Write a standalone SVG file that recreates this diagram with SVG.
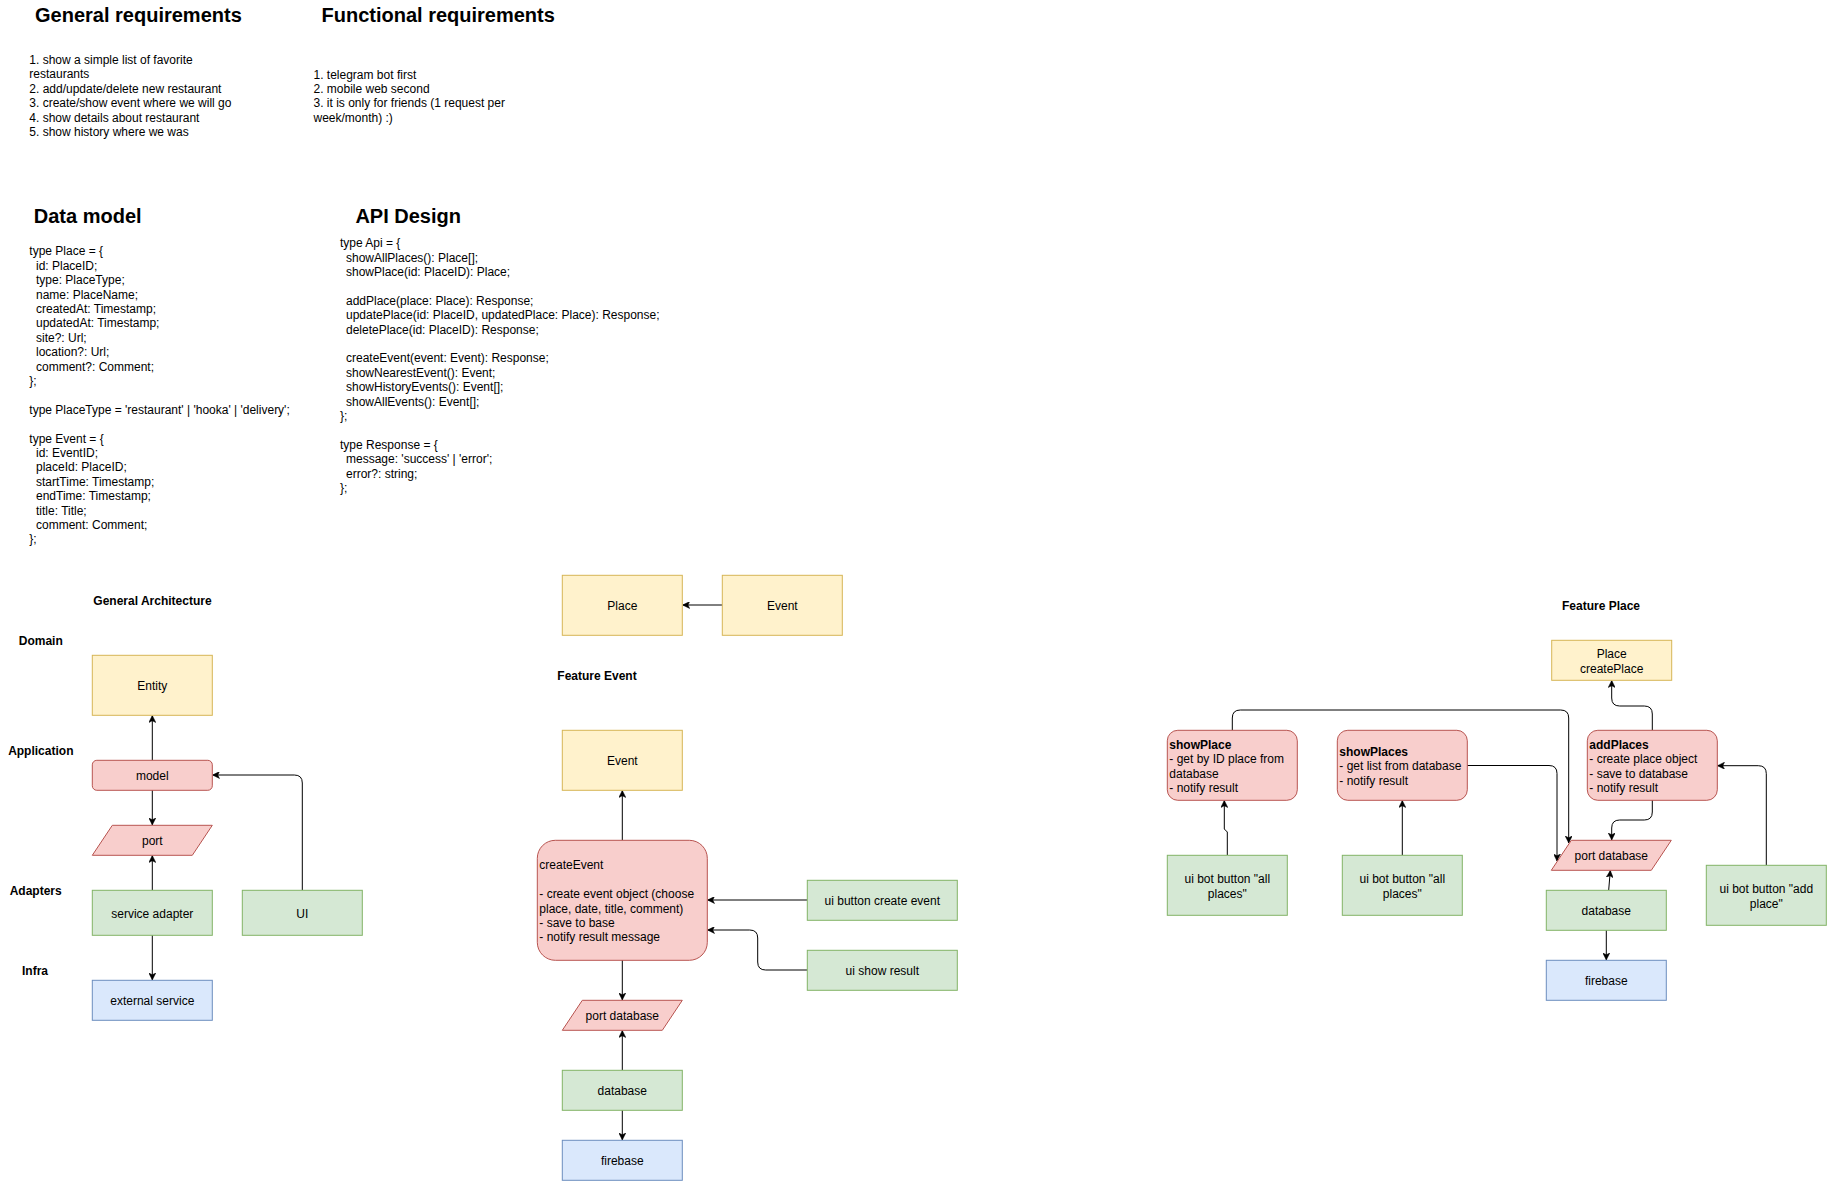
<svg xmlns="http://www.w3.org/2000/svg" width="1827" height="1181" viewBox="0 0 1827 1181">
<style>
text{font-family:"Liberation Sans",Arial,Helvetica,sans-serif;font-size:12px;fill:#000}
.h{font-size:20px;font-weight:bold}
.b{font-weight:bold}
.c{text-anchor:middle}
.y{fill:#fff2cc;stroke:#d6b656;stroke-width:1}
.r{fill:#f8cecc;stroke:#b85450;stroke-width:1}
.g{fill:#d5e8d4;stroke:#82b366;stroke-width:1}
.bl{fill:#dae8fc;stroke:#6c8ebf;stroke-width:1}
.e{fill:none;stroke:#000;stroke-width:1;marker-end:url(#arr)}
</style>
<defs>
<marker id="arr" markerUnits="userSpaceOnUse" viewBox="0 0 7 7" refX="7" refY="3.5" markerWidth="7" markerHeight="7" orient="auto">
<path d="M0,0 L7,3.5 L0,7 L1.75,3.5 Z" fill="#000" stroke="#000" stroke-width="0.5"/>
</marker>
</defs>
<rect width="1827" height="1181" fill="#fff"/>

<g id="texts">
<text class="h" x="35" y="22">General requirements</text>
<text class="h" x="321.5" y="22">Functional requirements</text>
<text x="29.3" y="64">
<tspan x="29.3">1. show a simple list of favorite</tspan>
<tspan x="29.3" dy="14.4">restaurants</tspan>
<tspan x="29.3" dy="14.4">2. add/update/delete new restaurant</tspan>
<tspan x="29.3" dy="14.4">3. create/show event where we will go</tspan>
<tspan x="29.3" dy="14.4">4. show details about restaurant</tspan>
<tspan x="29.3" dy="14.4">5. show history where we was</tspan>
</text>
<text x="313.5" y="78.5">
<tspan x="313.5">1. telegram bot first</tspan>
<tspan x="313.5" dy="14.4">2. mobile web second</tspan>
<tspan x="313.5" dy="14.4">3. it is only for friends (1 request per</tspan>
<tspan x="313.5" dy="14.4">week/month) :)</tspan>
</text>
<text class="h" x="33.8" y="223">Data model</text>
<text class="h" x="355.4" y="223">API Design</text>
<text x="29.3" y="255.4">
<tspan x="29.3">type Place = {</tspan>
<tspan x="36" dy="14.4">id: PlaceID;</tspan>
<tspan x="36" dy="14.4">type: PlaceType;</tspan>
<tspan x="36" dy="14.4">name: PlaceName;</tspan>
<tspan x="36" dy="14.4">createdAt: Timestamp;</tspan>
<tspan x="36" dy="14.4">updatedAt: Timestamp;</tspan>
<tspan x="36" dy="14.4">site?: Url;</tspan>
<tspan x="36" dy="14.4">location?: Url;</tspan>
<tspan x="36" dy="14.4">comment?: Comment;</tspan>
<tspan x="29.3" dy="14.4">};</tspan>
<tspan x="29.3" dy="28.8">type PlaceType = 'restaurant' | 'hooka' | 'delivery';</tspan>
<tspan x="29.3" dy="28.8">type Event = {</tspan>
<tspan x="36" dy="14.4">id: EventID;</tspan>
<tspan x="36" dy="14.4">placeId: PlaceID;</tspan>
<tspan x="36" dy="14.4">startTime: Timestamp;</tspan>
<tspan x="36" dy="14.4">endTime: Timestamp;</tspan>
<tspan x="36" dy="14.4">title: Title;</tspan>
<tspan x="36" dy="14.4">comment: Comment;</tspan>
<tspan x="29.3" dy="14.4">};</tspan>
</text>
<text x="340" y="247.2">
<tspan x="340">type Api = {</tspan>
<tspan x="346" dy="14.4">showAllPlaces(): Place[];</tspan>
<tspan x="346" dy="14.4">showPlace(id: PlaceID): Place;</tspan>
<tspan x="346" dy="28.8">addPlace(place: Place): Response;</tspan>
<tspan x="346" dy="14.4">updatePlace(id: PlaceID, updatedPlace: Place): Response;</tspan>
<tspan x="346" dy="14.4">deletePlace(id: PlaceID): Response;</tspan>
<tspan x="346" dy="28.8">createEvent(event: Event): Response;</tspan>
<tspan x="346" dy="14.4">showNearestEvent(): Event;</tspan>
<tspan x="346" dy="14.4">showHistoryEvents(): Event[];</tspan>
<tspan x="346" dy="14.4">showAllEvents(): Event[];</tspan>
<tspan x="340" dy="14.4">};</tspan>
<tspan x="340" dy="28.8">type Response = {</tspan>
<tspan x="346" dy="14.4">message: 'success' | 'error';</tspan>
<tspan x="346" dy="14.4">error?: string;</tspan>
<tspan x="340" dy="14.4">};</tspan>
</text>
<text class="b c" x="152.5" y="605">General Architecture</text>
<text class="b c" x="40.8" y="645">Domain</text>
<text class="b c" x="40.8" y="755">Application</text>
<text class="b c" x="35.7" y="895">Adapters</text>
<text class="b c" x="35" y="975">Infra</text>
<text class="b c" x="597" y="680">Feature Event</text>
<text class="b c" x="1601" y="610">Feature Place</text>
</g>

<g id="connectors">
<path class="e" d="M152.3,760 L152.3,715.5"/>
<path class="e" d="M152.3,790 L152.3,825"/>
<path class="e" d="M152.3,890 L152.3,855.5"/>
<path class="e" d="M152.3,935 L152.3,980"/>
<path class="e" d="M302.3,890 L302.3,783 Q302.3,775 294.3,775 L212.5,775"/>
<path class="e" d="M722.3,605 L682.7,605"/>
<path class="e" d="M622.3,840 L622.3,790.5"/>
<path class="e" d="M807.3,900 L707.5,900"/>
<path class="e" d="M807.3,970 L765.7,970 Q757.7,970 757.7,962 L757.7,938 Q757.7,930 749.7,930 L707.5,930"/>
<path class="e" d="M622.3,960 L622.3,1000"/>
<path class="e" d="M622.3,1070 L622.3,1030.5"/>
<path class="e" d="M622.3,1110 L622.3,1140"/>
<path class="e" d="M1232.3,730 L1232.3,718 Q1232.3,710 1240.3,710 L1560.7,710 Q1568.7,710 1568.7,718 L1568.7,843"/>
<path class="e" d="M1467.3,765.5 L1549,765.5 Q1557,765.5 1557,773.5 L1557,861"/>
<path class="e" d="M1227.3,855 L1227.3,832 L1224.3,829 L1224.3,800.5"/>
<path class="e" d="M1402.3,855 L1402.3,800.5"/>
<path class="e" d="M1652.3,730 L1652.3,714 Q1652.3,706 1644.3,706 L1619.7,706 Q1611.7,706 1611.7,698 L1611.7,680.5"/>
<path class="e" d="M1652.3,800 L1652.3,812 Q1652.3,820 1644.3,820 L1619.7,820 Q1611.7,820 1611.7,828 L1611.7,840"/>
<path class="e" d="M1766.3,865 L1766.3,773.7 Q1766.3,765.7 1758.3,765.7 L1717.5,765.7"/>
<path class="e" d="M1608.7,890 L1610.3,870.5"/>
<path class="e" d="M1606.3,930 L1606.3,960"/>
</g>

<g id="entity"><rect class="y" x="92.3" y="655.3" width="120" height="60"/><text class="c" x="152.3" y="690">Entity</text></g>
<g id="model"><rect class="r" x="92.3" y="760.3" width="120" height="30" rx="4.5"/><text class="c" x="152.3" y="780">model</text></g>
<g id="port"><polygon class="r" points="112.3,825.3 212.3,825.3 192.3,855.3 92.3,855.3"/><text class="c" x="152.3" y="845">port</text></g>
<g id="service-adapter"><rect class="g" x="92.3" y="890.3" width="120" height="45"/><text class="c" x="152.3" y="917.5">service adapter</text></g>
<g id="ui"><rect class="g" x="242.3" y="890.3" width="120" height="45"/><text class="c" x="302.3" y="917.5">UI</text></g>
<g id="external-service"><rect class="bl" x="92.3" y="980.3" width="120" height="40"/><text class="c" x="152.3" y="1005">external service</text></g>

<g id="place"><rect class="y" x="562.3" y="575.3" width="120" height="60"/><text class="c" x="622.3" y="610">Place</text></g>
<g id="event"><rect class="y" x="722.3" y="575.3" width="120" height="60"/><text class="c" x="782.3" y="610">Event</text></g>

<g id="fe-event"><rect class="y" x="562.3" y="730.3" width="120" height="60"/><text class="c" x="622.3" y="765">Event</text></g>
<g id="fe-createEvent"><rect class="r" x="537.3" y="840.3" width="170" height="120" rx="18"/>
<text x="539.3" y="869.3"><tspan x="539.3">createEvent</tspan><tspan x="539.3" dy="28.8">- create event object (choose</tspan><tspan x="539.3" dy="14.4">place, date, title, comment)</tspan><tspan x="539.3" dy="14.4">- save to base</tspan><tspan x="539.3" dy="14.4">- notify result message</tspan></text></g>
<g id="fe-ui-button"><rect class="g" x="807.3" y="880.3" width="150" height="40"/><text class="c" x="882.3" y="905">ui button create event</text></g>
<g id="fe-ui-result"><rect class="g" x="807.3" y="950.3" width="150" height="40"/><text class="c" x="882.3" y="975">ui show result</text></g>
<g id="fe-port"><polygon class="r" points="582.3,1000.3 682.3,1000.3 662.3,1030.3 562.3,1030.3"/><text class="c" x="622.3" y="1020">port database</text></g>
<g id="fe-database"><rect class="g" x="562.3" y="1070.3" width="120" height="40"/><text class="c" x="622.3" y="1095">database</text></g>
<g id="fe-firebase"><rect class="bl" x="562.3" y="1140.3" width="120" height="40"/><text class="c" x="622.3" y="1165">firebase</text></g>

<g id="fp-place"><rect class="y" x="1551.7" y="640.3" width="120" height="40"/><text class="c"><tspan x="1611.7" y="658.2">Place</tspan><tspan x="1611.7" dy="14.4">createPlace</tspan></text></g>
<g id="fp-showPlace"><rect class="r" x="1167.3" y="730.3" width="130" height="70" rx="10.5"/>
<text x="1169.3" y="748.8"><tspan x="1169.3" class="b">showPlace</tspan><tspan x="1169.3" dy="14.4">- get by ID place from</tspan><tspan x="1169.3" dy="14.4">database</tspan><tspan x="1169.3" dy="14.4">- notify result</tspan></text></g>
<g id="fp-showPlaces"><rect class="r" x="1337.3" y="730.3" width="130" height="70" rx="10.5"/>
<text x="1339.3" y="756"><tspan x="1339.3" class="b">showPlaces</tspan><tspan x="1339.3" dy="14.4">- get list from database</tspan><tspan x="1339.3" dy="14.4">- notify result</tspan></text></g>
<g id="fp-addPlaces"><rect class="r" x="1587.3" y="730.3" width="130" height="70" rx="10.5"/>
<text x="1589.3" y="748.8"><tspan x="1589.3" class="b">addPlaces</tspan><tspan x="1589.3" dy="14.4">- create place object</tspan><tspan x="1589.3" dy="14.4">- save to database</tspan><tspan x="1589.3" dy="14.4">- notify result</tspan></text></g>
<g id="fp-ui-all-1"><rect class="g" x="1167.3" y="855.3" width="120" height="60"/><text class="c"><tspan x="1227.3" y="883.2">ui bot button "all</tspan><tspan x="1227.3" dy="14.4">places"</tspan></text></g>
<g id="fp-ui-all-2"><rect class="g" x="1342.3" y="855.3" width="120" height="60"/><text class="c"><tspan x="1402.3" y="883.2">ui bot button "all</tspan><tspan x="1402.3" dy="14.4">places"</tspan></text></g>
<g id="fp-port"><polygon class="r" points="1571.3,840.3 1671.3,840.3 1651.3,870.3 1551.3,870.3"/><text class="c" x="1611.3" y="860">port database</text></g>
<g id="fp-database"><rect class="g" x="1546.3" y="890.3" width="120" height="40"/><text class="c" x="1606.3" y="915">database</text></g>
<g id="fp-firebase"><rect class="bl" x="1546.3" y="960.3" width="120" height="40"/><text class="c" x="1606.3" y="985">firebase</text></g>
<g id="fp-ui-add"><rect class="g" x="1706.3" y="865.3" width="120" height="60"/><text class="c"><tspan x="1766.3" y="893.2">ui bot button "add</tspan><tspan x="1766.3" dy="14.4">place"</tspan></text></g>
</svg>
